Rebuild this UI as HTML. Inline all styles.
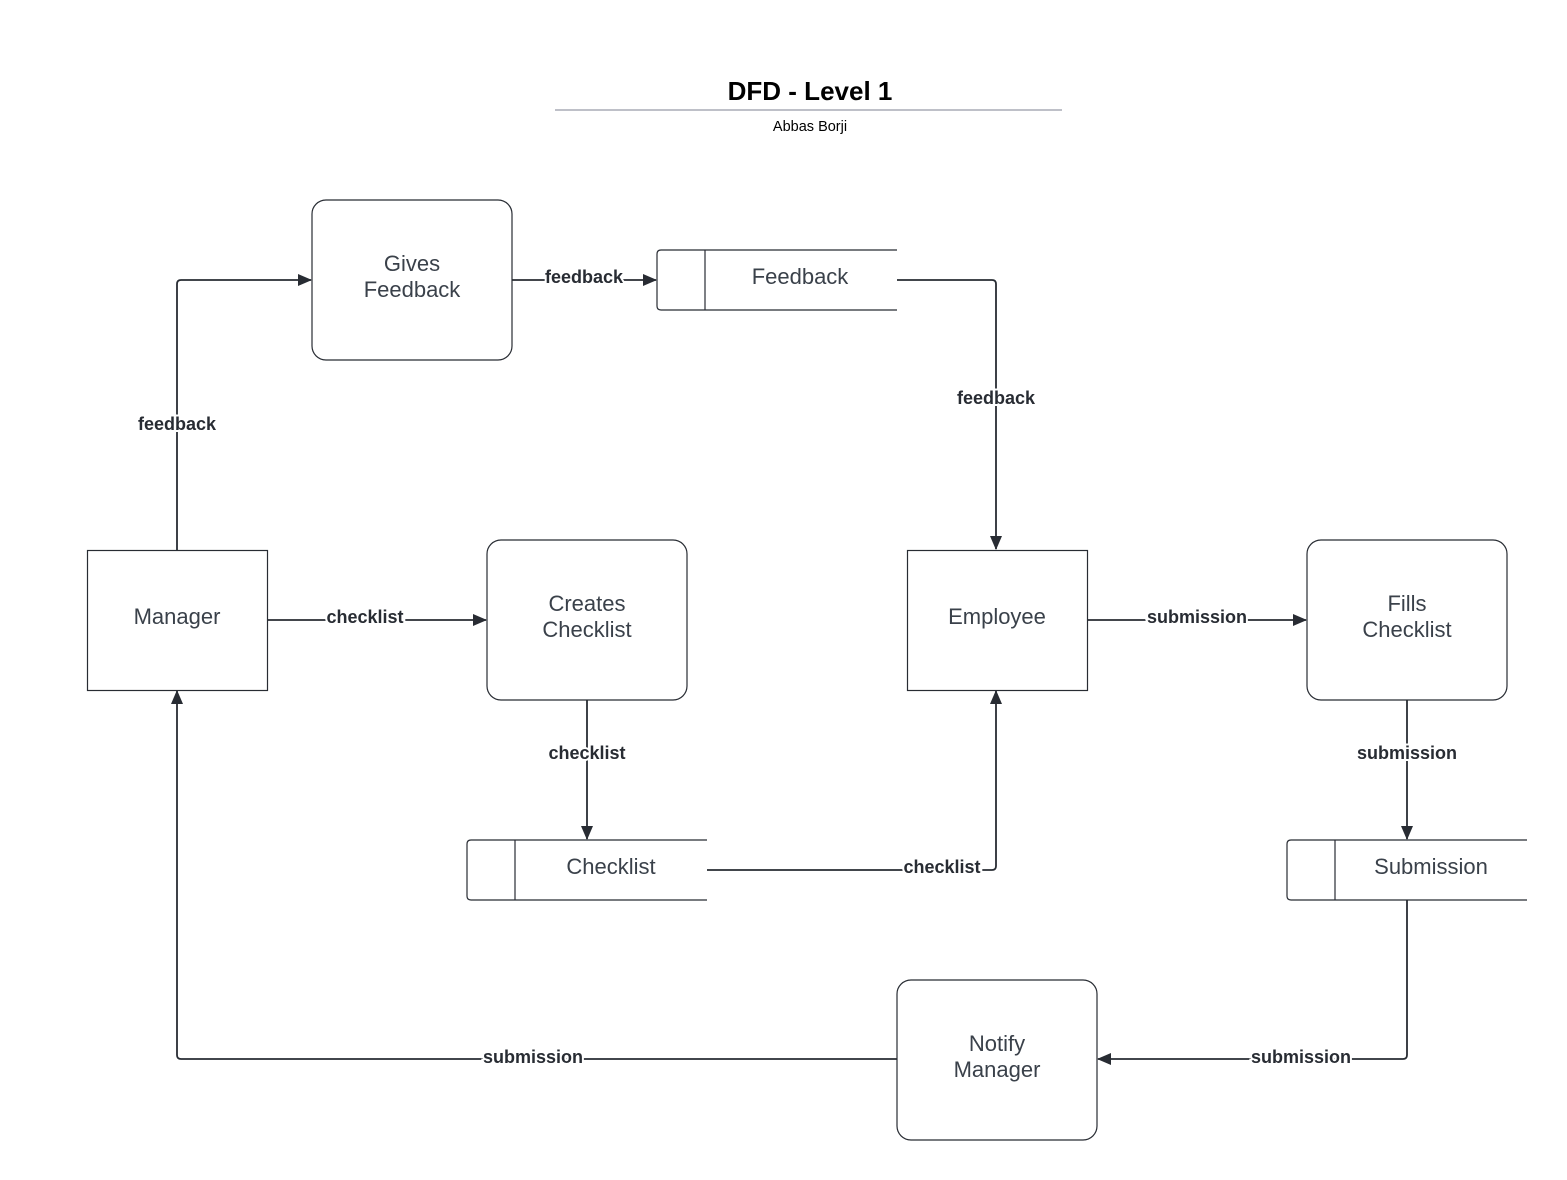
<!DOCTYPE html>
<html><head><meta charset="utf-8"><style>
html,body{margin:0;padding:0;background:#fff;}
svg{display:block;}
.n{font-family:"Liberation Sans",sans-serif;font-size:22px;fill:#3a414a;text-anchor:middle;}
.l{font-family:"Liberation Sans",sans-serif;font-size:18px;font-weight:bold;fill:#282c33;text-anchor:middle;stroke:#fff;stroke-width:4px;paint-order:stroke;}
.e{fill:none;stroke:#282c33;stroke-width:1.8;}
.s{fill:#fff;stroke:#282c33;stroke-width:1.2;}
</style></head><body>
<svg width="1567" height="1180" viewBox="0 0 1567 1180" xmlns="http://www.w3.org/2000/svg">
<defs><marker id="a" markerWidth="14" markerHeight="12" refX="13" refY="6" orient="auto" markerUnits="userSpaceOnUse"><path d="M0,0 L14,6 L0,12 Z" fill="#282c33"/></marker></defs>
<text x="810" y="100" font-family="Liberation Sans,sans-serif" font-size="26" font-weight="bold" text-anchor="middle" fill="#000">DFD - Level 1</text>
<line x1="555" y1="110" x2="1062" y2="110" stroke="#a8acb5" stroke-width="1.5"/>
<text x="810" y="131" font-family="Liberation Sans,sans-serif" font-size="14.5" text-anchor="middle" fill="#000">Abbas Borji</text>

<path class="e" d="M177,550 V284 Q177,280 181,280 H311" marker-end="url(#a)"/>
<path class="e" d="M512,280 H656" marker-end="url(#a)"/>
<path class="e" d="M897,280 H992 Q996,280 996,284 V549" marker-end="url(#a)"/>
<path class="e" d="M267,620 H486" marker-end="url(#a)"/>
<path class="e" d="M587,700 V839" marker-end="url(#a)"/>
<path class="e" d="M707,870 H992 Q996,870 996,866 V691" marker-end="url(#a)"/>
<path class="e" d="M1087,620 H1306" marker-end="url(#a)"/>
<path class="e" d="M1407,700 V839" marker-end="url(#a)"/>
<path class="e" d="M1407,900 V1055 Q1407,1059 1403,1059 H1098" marker-end="url(#a)"/>
<path class="e" d="M897,1059 H181 Q177,1059 177,1055 V691" marker-end="url(#a)"/>

<rect class="s" x="312" y="200" width="200" height="160" rx="14"/>
<text class="n" x="412" y="271">Gives</text><text class="n" x="412" y="297">Feedback</text>
<path class="s" d="M897,250 H661 Q657,250 657,254 V306 Q657,310 661,310 H897"/>
<line class="s" x1="705" y1="250" x2="705" y2="310"/>
<text class="n" x="800" y="284">Feedback</text>
<rect class="s" x="87.5" y="550.5" width="180" height="140"/>
<text class="n" x="177" y="624">Manager</text>
<rect class="s" x="487" y="540" width="200" height="160" rx="14"/>
<text class="n" x="587" y="611">Creates</text><text class="n" x="587" y="637">Checklist</text>
<rect class="s" x="907.5" y="550.5" width="180" height="140"/>
<text class="n" x="997" y="624">Employee</text>
<rect class="s" x="1307" y="540" width="200" height="160" rx="14"/>
<text class="n" x="1407" y="611">Fills</text><text class="n" x="1407" y="637">Checklist</text>
<path class="s" d="M707,840 H471 Q467,840 467,844 V896 Q467,900 471,900 H707"/>
<line class="s" x1="515" y1="840" x2="515" y2="900"/>
<text class="n" x="611" y="874">Checklist</text>
<path class="s" d="M1527,840 H1291 Q1287,840 1287,844 V896 Q1287,900 1291,900 H1527"/>
<line class="s" x1="1335" y1="840" x2="1335" y2="900"/>
<text class="n" x="1431" y="874">Submission</text>
<rect class="s" x="897" y="980" width="200" height="160" rx="14"/>
<text class="n" x="997" y="1051">Notify</text><text class="n" x="997" y="1077">Manager</text>

<text class="l" x="177" y="430">feedback</text>
<text class="l" x="584" y="283">feedback</text>
<text class="l" x="996" y="404">feedback</text>
<text class="l" x="365" y="623">checklist</text>
<text class="l" x="587" y="759">checklist</text>
<text class="l" x="942" y="873">checklist</text>
<text class="l" x="1197" y="623">submission</text>
<text class="l" x="1407" y="759">submission</text>
<text class="l" x="1301" y="1063">submission</text>
<text class="l" x="533" y="1063">submission</text>
</svg>
</body></html>
